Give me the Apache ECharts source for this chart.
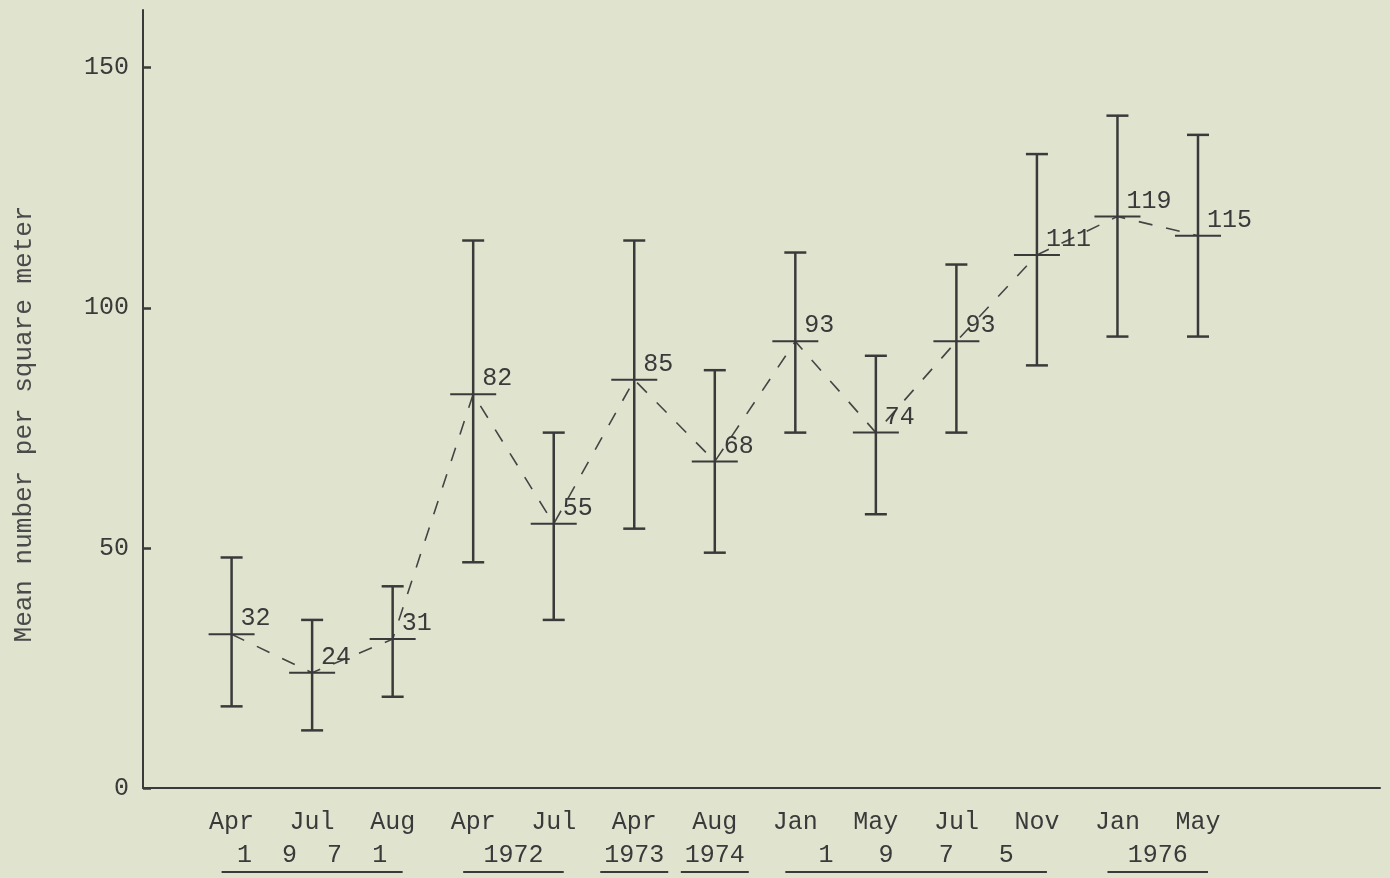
<!DOCTYPE html>
<html>
<head>
<meta charset="utf-8">
<title>Mean number per square meter</title>
<script src="https://cdn.jsdelivr.net/npm/echarts@6/dist/echarts.min.js"></script>
<style>
  html, body { margin: 0; padding: 0; background: #e0e4cf; }
  #main { width: 1390px; height: 878px; }
</style>
</head>
<body>
<div id="main"></div>
<script>
// sampling dates (x axis) and the year each group belongs to
const months = ["Apr", "Jul", "Aug", "Apr", "Jul", "Apr", "Aug", "Jan", "May", "Jul", "Nov", "Jan", "May"];
const means = [32, 24, 31, 82, 55, 85, 68, 93, 74, 93, 111, 119, 115];
const lows = [17, 12, 19, 47, 35, 54, 49, 74, 57, 74, 88, 94, 94];
const highs = [48, 35, 42, 114, 74, 114, 87, 111.5, 90, 109, 132, 140, 136];
const yearLabels = ["1  9  7  1", "1972", "1973", "1974", "1   9   7   5", "1976"];
const yearFirst = [0, 3, 5, 6, 7, 11];
const yearLast = [2, 4, 5, 6, 10, 12];
const yTicks = [0, 50, 100, 150];

const FONT = "Liberation Mono";
const INK = "#3a3a3a";

const chart = echarts.init(document.getElementById("main"));

function renderBar(params, api) {
  const x = api.value(0);
  const lo = api.coord([x, api.value(1)]);
  const hi = api.coord([x, api.value(2)]);
  const m = api.coord([x, api.value(3)]);
  const st = { stroke: INK, lineWidth: 2.5 };
  return {
    type: "group",
    children: [
      { type: "line", shape: { x1: lo[0], y1: lo[1], x2: hi[0], y2: hi[1] }, style: st },
      { type: "line", shape: { x1: lo[0] - 11, y1: lo[1], x2: lo[0] + 11, y2: lo[1] }, style: st },
      { type: "line", shape: { x1: hi[0] - 11, y1: hi[1], x2: hi[0] + 11, y2: hi[1] }, style: st },
      { type: "line", shape: { x1: m[0] - 23, y1: m[1], x2: m[0] + 23, y2: m[1] }, style: { stroke: INK, lineWidth: 2 } },
      {
        type: "text",
        x: m[0] + 9,
        y: m[1] - 3,
        style: {
          text: String(api.value(3)),
          fontFamily: FONT,
          fontSize: 25,
          fill: INK,
          align: "left",
          verticalAlign: "bottom"
        }
      }
    ]
  };
}

const option = {
  backgroundColor: "#e0e4cf",
  animation: false,
  grid: {
    left: 143,
    right: 10,
    top: 10,
    bottom: 90
  },
  xAxis: {
    type: "value",
    min: -1.1,
    max: 14.26,
    splitLine: { show: false },
    axisTick: { show: false },
    axisLine: { lineStyle: { color: INK, width: 2 } },
    axisLabel: {
      customValues: months.map((m, i) => i),
      formatter: v => months[v],
      margin: 22,
      fontFamily: FONT,
      fontSize: 25,
      color: INK
    }
  },
  yAxis: {
    type: "value",
    min: 0,
    max: 162,
    interval: 50,
    splitLine: { show: false },
    axisLine: { show: true, onZero: false, lineStyle: { color: INK, width: 2 } },
    axisTick: {
      show: true,
      inside: true,
      length: 8,
      customValues: yTicks,
      lineStyle: { color: INK, width: 2.5 }
    },
    axisLabel: {
      customValues: yTicks,
      margin: 14,
      fontFamily: FONT,
      fontSize: 25,
      color: INK
    }
  },
  series: [
    {
      // dashed line joining the means
      type: "line",
      data: means.map((v, i) => [i, v]),
      symbol: "none",
      z: 1,
      lineStyle: { color: "#444", width: 1.6, type: [14, 14] }
    },
    {
      type: "custom",
      renderItem: renderBar,
      z: 2,
      data: means.map((v, i) => [i, lows[i], highs[i], v])
    }
  ]
};
chart.setOption(option);

// y title and the year row under the month labels, underlined per group
const graphics = [
  {
    type: "text",
    x: 24,
    y: 424,
    rotation: Math.PI / 2,
    style: {
      text: "Mean number per square meter",
      fontFamily: FONT,
      fontSize: 26,
      fill: "#4a4a4a",
      align: "center",
      verticalAlign: "middle"
    }
  }
];
yearLabels.forEach((lab, k) => {
  const a = chart.convertToPixel({ xAxisIndex: 0 }, yearFirst[k]);
  const b = chart.convertToPixel({ xAxisIndex: 0 }, yearLast[k]);
  const c = (a + b) / 2;
  const w = Math.max(b - a + 20, 68);
  graphics.push({
    type: "text",
    x: c,
    y: 855,
    style: { text: lab, fontFamily: FONT, fontSize: 25, fill: INK, align: "center", verticalAlign: "middle" }
  });
  graphics.push({
    type: "line",
    shape: { x1: c - w / 2, y1: 872, x2: c + w / 2, y2: 872 },
    style: { stroke: INK, lineWidth: 2 }
  });
});
chart.setOption({ graphic: graphics });
</script>
</body>
</html>
